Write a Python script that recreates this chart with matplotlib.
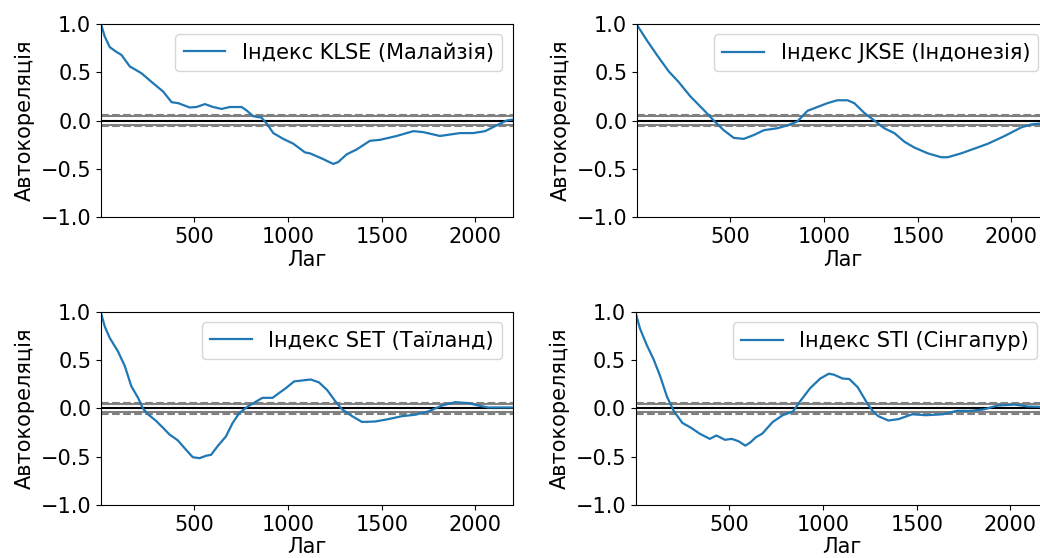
import numpy as np
import matplotlib.pyplot as plt

n = 2200
z95 = 1.959963984540054
z99 = 2.5758293035489004

# values (lag, autocorrelation)
klse_lag = [1, 21, 48, 84, 110, 155, 217, 271, 333, 378, 413, 475, 511, 556, 600, 645, 689, 752, 778, 814,
            858, 885, 921, 974, 1028, 1090, 1117, 1188, 1241, 1268, 1313, 1366, 1437, 1491, 1580, 1669, 1722,
            1811, 1865, 1918, 1989, 2052, 2114, 2167, 2200]
klse_acf = [1.0, 0.87, 0.76, 0.71, 0.68, 0.56, 0.49, 0.40, 0.30, 0.19, 0.18, 0.135, 0.14, 0.17, 0.14, 0.12, 0.14,
            0.14, 0.105, 0.045, 0.03, -0.03, -0.13, -0.19, -0.24, -0.33, -0.34, -0.40, -0.45, -0.43, -0.35, -0.30,
            -0.21, -0.20, -0.16, -0.11, -0.12, -0.16, -0.145, -0.13, -0.13, -0.11, -0.05, 0.0, 0.01]

jkse_lag = [1, 54, 107, 170, 223, 286, 357, 411, 464, 518, 571, 625, 679, 750, 804, 857, 911, 964, 1018, 1071,
            1125, 1161, 1214, 1268, 1321, 1375, 1429, 1482, 1554, 1625, 1661, 1732, 1804, 1875, 1964, 2054, 2107,
            2161, 2200]
jkse_acf = [0.99, 0.83, 0.68, 0.51, 0.40, 0.25, 0.11, 0.0, -0.10, -0.18, -0.19, -0.15, -0.10, -0.08, -0.05, -0.01,
            0.10, 0.14, 0.18, 0.21, 0.21, 0.18, 0.08, 0.0, -0.08, -0.13, -0.22, -0.28, -0.34, -0.38, -0.38, -0.34,
            -0.29, -0.24, -0.16, -0.07, -0.04, -0.03, -0.02]

set_lag = [1, 21, 48, 92, 128, 163, 199, 225, 252, 296, 332, 367, 411, 456, 491, 527, 562, 589, 624, 668, 704,
           739, 784, 828, 863, 917, 952, 988, 1032, 1076, 1121, 1165, 1209, 1254, 1289, 1342, 1395, 1466, 1537,
           1608, 1679, 1750, 1821, 1892, 1963, 2016, 2069, 2200]
set_acf = [0.99, 0.85, 0.73, 0.59, 0.44, 0.23, 0.11, 0.0, -0.06, -0.13, -0.20, -0.27, -0.33, -0.43, -0.505, -0.515,
           -0.49, -0.48, -0.39, -0.29, -0.15, -0.05, 0.02, 0.07, 0.11, 0.11, 0.16, 0.21, 0.28, 0.29, 0.30, 0.27,
           0.19, 0.07, -0.01, -0.08, -0.14, -0.135, -0.11, -0.08, -0.065, -0.03, 0.03, 0.065, 0.055, 0.03, 0.01,
           0.01]

sti_lag = [1, 22, 58, 95, 131, 167, 204, 249, 295, 340, 395, 431, 476, 513, 549, 585, 613, 640, 676, 731, 785,
           840, 876, 931, 985, 1031, 1058, 1104, 1140, 1185, 1240, 1267, 1295, 1349, 1404, 1476, 1549, 1640, 1713,
           1785, 1858, 1931, 2022, 2095, 2200]
sti_acf = [0.98, 0.83, 0.66, 0.51, 0.33, 0.12, -0.03, -0.15, -0.20, -0.26, -0.315, -0.28, -0.325, -0.315, -0.34,
           -0.385, -0.35, -0.30, -0.26, -0.14, -0.07, -0.03, 0.07, 0.21, 0.31, 0.36, 0.35, 0.31, 0.305, 0.22, 0.04,
           -0.03, -0.08, -0.125, -0.11, -0.06, -0.07, -0.06, -0.025, -0.025, -0.01, 0.03, 0.04, 0.02, 0.015]

labels = ['Індекс KLSE (Малайзія)', 'Індекс JKSE (Індонезія)', 'Індекс SET (Таїланд)', 'Індекс STI (Сінгапур)']
series = [(klse_lag, klse_acf), (jkse_lag, jkse_acf), (set_lag, set_acf), (sti_lag, sti_acf)]

plt.rcParams['font.family'] = 'DejaVu Sans'
plt.rcParams['font.size'] = 15

fig = plt.figure(figsize=(10.4, 5.58), dpi=100)
# axes boxes in figure fractions; the right column runs past the image edge
boxes = [(0.0971, 0.611, 0.396, 0.346), (0.6125, 0.611, 0.396, 0.346),
         (0.0971, 0.095, 0.396, 0.346), (0.6115, 0.095, 0.396, 0.346)]

for box, (lag, acf), lab in zip(boxes, series, labels):
    ax = fig.add_axes(box)
    ax.axhline(y=z99 / np.sqrt(n), linestyle='--', color='grey')
    ax.axhline(y=z95 / np.sqrt(n), color='grey')
    ax.axhline(y=0.0, color='black')
    ax.axhline(y=-z95 / np.sqrt(n), color='grey')
    ax.axhline(y=-z99 / np.sqrt(n), linestyle='--', color='grey')
    ax.plot(lag, acf, color='tab:blue', lw=1.6, label=lab)
    ax.set_xlim(1, n)
    ax.set_ylim(-1.0, 1.0)
    ax.set_xticks([500, 1000, 1500, 2000])
    ax.set_yticks([-1.0, -0.5, 0.0, 0.5, 1.0])
    ax.set_xlabel('Лаг', labelpad=2)
    ax.set_ylabel('Автокореляція')
    ax.legend(loc='upper right')

fig.savefig('out.png', dpi=100)
